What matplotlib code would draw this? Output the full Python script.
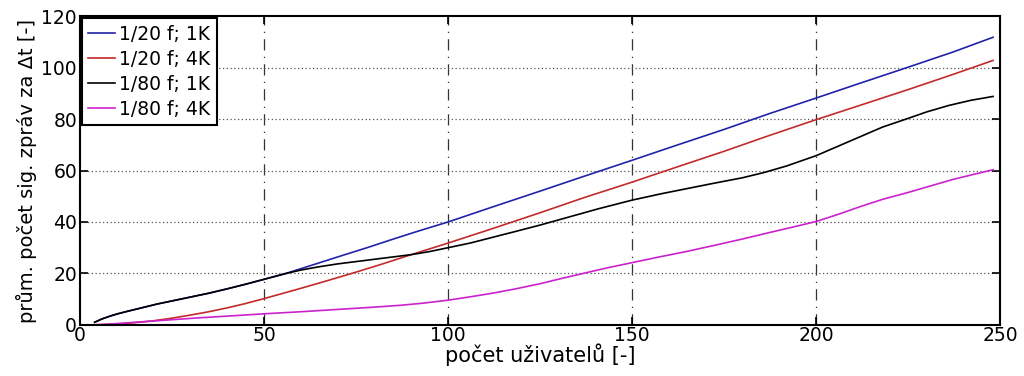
import numpy as np
import matplotlib.pyplot as plt

plt.rcParams['font.family'] = ['DejaVu Sans']

# průměrný počet signalizačních zpráv vs. počet uživatelů
x_20_1k = [4, 6, 8, 10, 13, 17, 21, 25, 30, 35, 40, 45, 50, 56, 63, 70, 78, 85, 92, 100,
           112, 125, 137, 150, 162, 175, 187, 200, 212, 225, 237, 248]
y_20_1k = [1, 2.3, 3.3, 4.2, 5.3, 6.7, 8.1, 9.3, 10.8, 12.3, 14, 15.8, 17.7, 20, 23.2, 26.4,
           30, 33.3, 36.5, 40, 45.8, 52, 57.8, 64, 69.8, 76, 82, 88.2, 94, 100.2, 106, 111.8]

x_20_4k = [4, 8, 12, 16, 20, 25, 30, 35, 40, 45, 50, 55, 60, 67, 75, 82, 90, 100, 112, 125,
           137, 150, 162, 175, 187, 200, 212, 225, 237, 248]
y_20_4k = [0, 0.2, 0.5, 1, 1.6, 2.6, 3.8, 5.1, 6.6, 8.3, 10.2, 12.2, 14.2, 17.1, 20.5, 23.6,
           27.3, 31.8, 37.4, 43.6, 49.5, 55.5, 61.3, 67.5, 73.5, 79.8, 85.4, 91.5, 97.3, 102.8]

x_80_1k = [4, 6, 8, 10, 13, 17, 21, 25, 30, 35, 40, 45, 50, 56, 60, 65, 70, 75, 80, 85, 90,
           95, 100, 106, 112, 118, 125, 133, 141, 150, 158, 165, 172, 180, 186, 192, 200,
           206, 212, 218, 225, 230, 236, 242, 248]
y_80_1k = [1, 2.3, 3.3, 4.2, 5.3, 6.7, 8.1, 9.3, 10.8, 12.3, 14, 15.8, 17.7, 20, 21.3, 22.6,
           23.7, 24.6, 25.5, 26.4, 27.3, 28.5, 30, 31.8, 34, 36.2, 38.8, 42, 45.2, 48.5, 51,
           53, 55, 57.2, 59.3, 61.8, 65.8, 69.5, 73.2, 76.9, 80.3, 82.8, 85.3, 87.3, 88.8]

x_80_4k = [4, 10, 15, 20, 25, 32, 40, 50, 60, 70, 80, 87, 93, 100, 106, 112, 118, 125, 131,
           137, 143, 150, 157, 165, 172, 180, 187, 193, 200, 206, 212, 218, 225, 231, 237,
           243, 248]
y_80_4k = [0, 0.5, 1, 1.5, 2, 2.7, 3.4, 4.3, 5.1, 6, 6.9, 7.6, 8.4, 9.6, 10.9, 12.3, 13.9,
           16, 18.1, 20.1, 22.1, 24.2, 26.3, 28.6, 30.8, 33.4, 35.8, 37.8, 40.2, 43, 46, 48.8,
           51.5, 54, 56.5, 58.6, 60.3]

labels = ["1/20 f; 1K", "1/20 f; 4K", "1/80 f; 1K", "1/80 f; 4K"]
colors = ["#2222aa", "#c42a2a", "#000000", "#cc22cc"]

fig = plt.figure(figsize=(10.24, 3.76), dpi=100)
ax = fig.add_axes([0.078, 0.136, 0.899, 0.821])

series = [(x_20_1k, y_20_1k), (x_20_4k, y_20_4k), (x_80_1k, y_80_1k), (x_80_4k, y_80_4k)]
for (xs, ys), lab, c in zip(series, labels, colors):
    ax.plot(xs, ys, color=c, lw=1.2, label=lab)

ax.set_xlim(0, 250)
ax.set_ylim(0, 120)
ax.set_xticks([0, 50, 100, 150, 200, 250])
ax.set_yticks([0, 20, 40, 60, 80, 100, 120])

# mřížka: svislé čerchované, vodorovné tečkované
for xv in [50, 100, 150, 200]:
    ax.axvline(xv, color="#333333", lw=0.9, ls=(0, (9, 5, 1, 5)), zorder=0)
for yv in [20, 40, 60, 80, 100]:
    ax.axhline(yv, color="#555555", lw=0.9, ls=(0, (1, 2)), zorder=0)

ax.tick_params(direction="in", length=6, width=1.2, top=True, right=True,
               labelsize=13.5)
ax.tick_params(axis="x", pad=1)
ax.tick_params(axis="y", pad=2)
for s in ax.spines.values():
    s.set_linewidth(1.5)

ax.set_xlabel("počet uživatelů [-]", fontsize=15, labelpad=-1)
ax.set_ylabel("prům. počet sig. zpráv za Δt [-]", fontsize=14, labelpad=3)

leg = ax.legend(loc="upper left", fontsize=13.5, borderaxespad=0.1, handlelength=1.45,
                handletextpad=0.2, labelspacing=0.32, borderpad=0.35, fancybox=False)
leg.get_frame().set_edgecolor("black")
leg.get_frame().set_linewidth(1.5)
leg.get_frame().set_alpha(1)

fig.savefig("out.png", dpi=100)
